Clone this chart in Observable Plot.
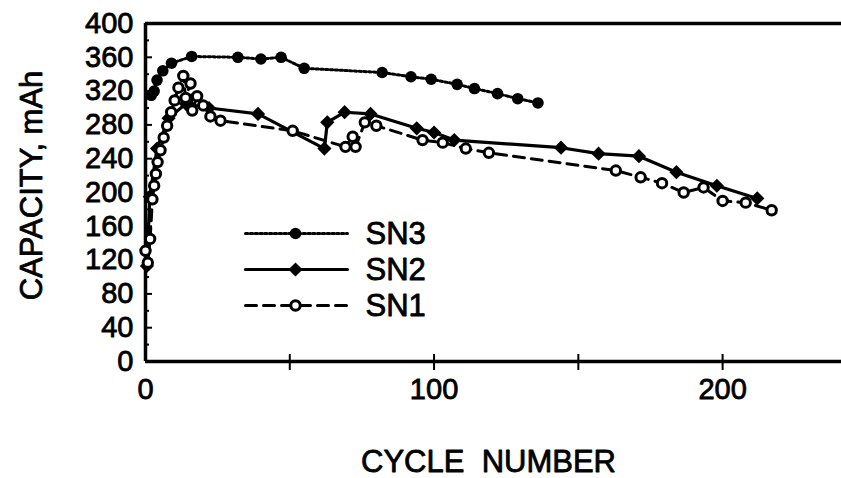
<!DOCTYPE html>
<html>
<head>
<meta charset="utf-8">
<script src="https://cdn.jsdelivr.net/npm/d3@7"></script>
<script src="https://cdn.jsdelivr.net/npm/@observablehq/plot@0.6"></script>
<style>
  html, body { margin: 0; padding: 0; background: #fff; }
  #chart svg { display: block; }
</style>
</head>
<body>
<div id="chart"></div>
<script>
// ---- data ----
const sn3Cycle = [2, 3, 4, 6, 9, 16, 32, 40, 47, 55, 82, 92, 99, 108, 114, 122, 129, 136];
const sn3Cap   = [315, 320, 333, 344, 353, 361, 360, 358, 360, 347, 342, 337, 334, 328, 323, 317, 311, 306];

const sn2Cycle = [0.5, 1.5, 4, 8, 14, 22, 39, 62, 63, 69, 78, 94, 100, 107, 144, 157, 171, 184, 198, 212];
const sn2Cap   = [113, 195, 252, 288, 305, 300, 293, 252, 283, 295, 293, 276, 271, 262, 253, 246, 243, 224, 208, 193];

const sn1Cycle = [0, 0.8, 1.6, 2.4, 3, 3.6, 4.2, 5.2, 6.3, 7.5, 8.9, 10.1, 11.4, 13.1, 13.9, 15.6, 16.2, 17.9, 20, 22.5, 26, 51, 69.3, 71.8, 72.8, 76, 80, 96, 103, 111, 119, 163, 171.6, 179, 186.5, 193.4, 200, 208, 217];
const sn1Cap   = [131, 117, 145, 192, 208, 222, 236, 250, 265, 279, 295, 309, 324, 338, 312, 329, 297, 314, 303, 290, 285, 273, 254, 266, 254, 283, 279, 262, 259, 252, 247, 226, 218, 211, 200, 206, 190, 188, 179];

const yTickLabels = [0, 40, 80, 120, 160, 200, 240, 280, 320, 360, 400];
const yMinorTicks = [20, 60, 100, 140, 180, 220, 260, 300, 340, 380];
const xTickLabels = [0, 100, 200];
const xTickMarks = [50, 100, 150, 200];
const legendNames = ["SN3", "SN2", "SN1"];

const xTitle = "CYCLE\u00a0\u00a0NUMBER";
const yTitle = "CAPACITY, mAh";

// ---- build tables ----
const sn3 = sn3Cycle.map((c, i) => ({cycle: c, cap: sn3Cap[i]}));
const sn2 = sn2Cycle.map((c, i) => ({cycle: c, cap: sn2Cap[i]}));
const sn1 = sn1Cycle.map((c, i) => ({cycle: c, cap: sn1Cap[i]}));

const lineShape = {draw(context, l) { context.moveTo(0, 0); context.lineTo(0, -l); }};
const TEXT_STROKE = 0.8;

const styles = {
  SN3: {strokeWidth: 3, strokeDasharray: "2.4 2.4", symbol: "circle", r: 5.8, fill: "#000", mstroke: "none", msw: 0},
  SN2: {strokeWidth: 3.2, strokeDasharray: null, symbol: "diamond2", r: 6.4, fill: "#000", mstroke: "none", msw: 0},
  SN1: {strokeWidth: 3, strokeDasharray: "11 7", symbol: "circle", r: 4.7, fill: "#fff", mstroke: "#000", msw: 3}
};

const legendMarks = [];
legendNames.forEach((name, i) => {
  const s = styles[name];
  const dy = 210 + i * 36;
  legendMarks.push(
    Plot.vector([0], {frameAnchor: "top-left", dx: 100, dy, length: 102, rotate: 90, anchor: "start",
      shape: lineShape, stroke: "#000", strokeWidth: s.strokeWidth, strokeDasharray: s.strokeDasharray}),
    Plot.dot([0], {frameAnchor: "top-left", dx: 150, dy, symbol: s.symbol, r: s.r, fill: s.fill,
      stroke: s.mstroke, strokeWidth: s.msw}),
    Plot.text([name], {frameAnchor: "top-left", dx: 220, dy: dy + 1, textAnchor: "start", lineAnchor: "middle",
      fontSize: 31, fill: "#000", stroke: "#000", strokeWidth: TEXT_STROKE})
  );
});

const chart = Plot.plot({
  width: 841,
  height: 478,
  marginLeft: 145,
  marginRight: 0,
  marginTop: 23,
  marginBottom: 117,
  style: {fontFamily: "'Liberation Sans', Arial, Helvetica, sans-serif", fontSize: "29px", color: "#000", background: "#fff"},
  x: {domain: [0, 241.2], ticks: xTickLabels, tickSize: 0, tickPadding: 17, label: null},
  y: {domain: [0, 400], ticks: yTickLabels, tickSize: 0, tickPadding: 12, label: null},
  marks: [
    // frame
    Plot.ruleY([0, 400], {stroke: "#000", strokeWidth: 3.5}),
    Plot.ruleX([0], {stroke: "#000", strokeWidth: 3.5}),
    // inward y ticks
    Plot.ruleY(yTickLabels, {y: d => d, x1: 0, x2: 0, insetRight: -7, stroke: "#000", strokeWidth: 2}),
    Plot.ruleY(yMinorTicks, {y: d => d, x1: 0, x2: 0, insetRight: -4, stroke: "#000", strokeWidth: 2}),
    // crossing x ticks
    Plot.ruleX(xTickMarks, {x: d => d, y1: 0, y2: 0, insetTop: -7, insetBottom: -9, stroke: "#000", strokeWidth: 2}),
    // series lines
    Plot.line(sn2, {x: "cycle", y: "cap", stroke: "#000", strokeWidth: styles.SN2.strokeWidth}),
    Plot.line(sn1, {x: "cycle", y: "cap", stroke: "#000", strokeWidth: styles.SN1.strokeWidth, strokeDasharray: styles.SN1.strokeDasharray}),
    Plot.line(sn3, {x: "cycle", y: "cap", stroke: "#000", strokeWidth: styles.SN3.strokeWidth, strokeDasharray: styles.SN3.strokeDasharray}),
    // markers
    Plot.dot(sn2, {x: "cycle", y: "cap", symbol: "diamond2", r: styles.SN2.r, fill: "#000"}),
    Plot.dot(sn1, {x: "cycle", y: "cap", symbol: "circle", r: styles.SN1.r, fill: "#fff", stroke: "#000", strokeWidth: styles.SN1.msw}),
    Plot.dot(sn3, {x: "cycle", y: "cap", symbol: "circle", r: styles.SN3.r, fill: "#000"}),
    // titles
    Plot.text([yTitle], {frameAnchor: "left", dx: -113, dy: -7, rotate: -90, textAnchor: "middle", lineAnchor: "middle",
      fontSize: 31, fill: "#000", stroke: "#000", strokeWidth: TEXT_STROKE}),
    Plot.text([xTitle], {frameAnchor: "bottom", dx: -5, dy: 101, textAnchor: "middle", lineAnchor: "middle",
      fontSize: 31, fill: "#000", stroke: "#000", strokeWidth: TEXT_STROKE}),
    ...legendMarks
  ]
});

chart.querySelectorAll("g[aria-label='x-axis tick label'] text, g[aria-label='y-axis tick label'] text, g[aria-label='x-axis'] text, g[aria-label='y-axis'] text").forEach(t => {
  t.setAttribute("stroke", "#000");
  t.setAttribute("stroke-width", String(TEXT_STROKE));
});

document.getElementById("chart").appendChild(chart);
</script>
</body>
</html>
